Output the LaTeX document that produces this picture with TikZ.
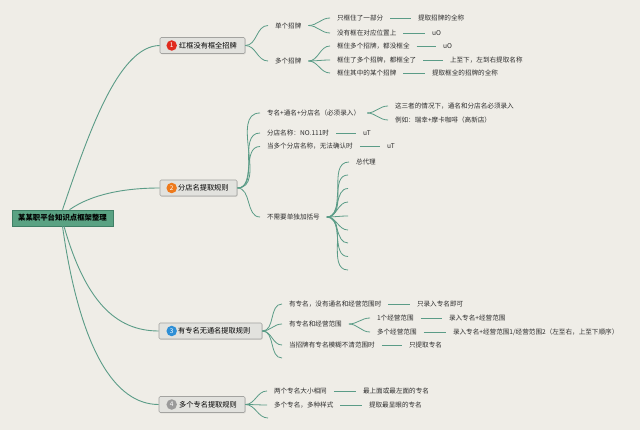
\documentclass[tikz,border=0pt]{standalone}
\usepackage{fontspec}
\setmainfont{Noto Sans CJK SC}
\usetikzlibrary{shadows}
\definecolor{bgc}{HTML}{EFEDE7}
\definecolor{lnc}{HTML}{5B9C87}
\definecolor{txtc}{HTML}{2E2E2E}
\definecolor{boxf}{HTML}{E2E2DE}
\definecolor{boxd}{HTML}{A3A3A0}
\definecolor{rootf}{HTML}{5AA283}
\definecolor{rootd}{HTML}{3F7F66}
\definecolor{c1}{HTML}{E02A1E}
\definecolor{c2}{HTML}{EE7A1C}
\definecolor{c3}{HTML}{2E8FD6}
\definecolor{c4}{HTML}{9A9A9A}
\tikzset{
  ln/.style={draw=lnc, line width=0.8pt},
  leaf/.style={anchor=west, inner xsep=7pt, inner ysep=1pt, outer sep=0pt, text=txtc, font=\fontsize{6.6}{7}\selectfont},
  brbox/.style={draw=boxd, fill=boxf, rounded corners=1.2pt, minimum height=16pt, inner sep=0pt, line width=0.6pt,
    drop shadow={opacity=0.2, shadow xshift=0.8pt, shadow yshift=-0.8pt}},
  brtext/.style={anchor=west, inner sep=0pt, text=black, font=\fontsize{7.2}{8}\selectfont},
  numc/.style={circle, inner sep=0pt, minimum size=10.5pt, text=white, font=\fontsize{6.5}{7}\selectfont},
  sbr/.style={ln, out=0, in=180},
}
\begin{document}
\begin{tikzpicture}[x=1pt,y=-1pt]
\fill[bgc] (0,0) rectangle (640,430);
\useasboundingbox (0,0) rectangle (640,430);

% root
\node[draw=rootd, fill=rootf, minimum width=101pt, minimum height=16pt, inner sep=0pt, line width=0.6pt,
  font=\fontsize{7.4}{8}\selectfont\bfseries, text=black] (root) at (62.5,218) {某某职平台知识点框架整理};

% main branches
\node[brbox, minimum width=85pt] (b1) at (202.5,45.5) {};
\node[numc, fill=c1] (k1) at (171.7,45.5) {1};
\node[brtext] (t1) at (179,45.5) {红框没有框全招牌};

\node[brbox, minimum width=77pt] (b2) at (198.5,188) {};
\node[numc, fill=c2] (k2) at (171.7,188) {2};
\node[brtext] (t2) at (178,188) {分店名提取规则};

\node[brbox, minimum width=103pt] (b3) at (210.5,331) {};
\node[numc, fill=c3] (k3) at (171.7,331) {3};
\node[brtext] (t3) at (178,331) {有专名无通名提取规则};

\node[brbox, minimum width=86pt] (b4) at (202,404.5) {};
\node[numc, fill=c4] (k4) at (171.7,404.5) {4};
\node[brtext] (t4) at (179,404.5) {多个专名提取规则};

% root connectors
\draw[ln, line width=0.9pt] (root.north) .. controls (88,135) and (118,46) .. (b1.west);
\draw[ln, line width=0.9pt] ([xshift=7pt]root.north) .. controls (92,194) and (125,188) .. (b2.west);
\draw[ln, line width=0.9pt] ([xshift=1.5pt]root.south) .. controls (85,300) and (115,331) .. (b3.west);
\draw[ln, line width=0.9pt] (root.south) .. controls (80,350) and (115,404.5) .. (b4.west);

% ---------- branch 1
\node[leaf] (n11) at (268,25.5) {单个招牌};
\node[leaf] (n12) at (268,61) {多个招牌};
\draw[sbr] (b1.east) to (n11.west);
\draw[sbr] (b1.east) to (n12.west);

\node[leaf] (l111) at (330,18) {只框住了一部分};
\node[leaf] (r111) at (411,18) {提取招牌的全称};
\node[leaf] (l112) at (330,33) {没有框在对应位置上};
\node[leaf] (r112) at (425,33) {uO};
\draw[sbr] (n11.east) to (l111.west);
\draw[sbr] (n11.east) to (l112.west);
\draw[ln] (l111.east) -- (r111.west);
\draw[ln] (l112.east) -- (r112.west);

\node[leaf] (l121) at (330,46) {框住多个招牌，都没框全};
\node[leaf] (r121) at (436,46) {uO};
\node[leaf] (l122) at (330,60) {框住了多个招牌，都框全了};
\node[leaf] (r122) at (443,60) {上至下，左到右提取名称};
\node[leaf] (l123) at (330,73) {框住其中的某个招牌};
\node[leaf] (r123) at (425,73) {提取框全的招牌的全称};
\draw[sbr] (n12.east) to (l121.west);
\draw[sbr] (n12.east) to (l122.west);
\draw[sbr] (n12.east) to (l123.west);
\draw[ln] (l121.east) -- (r121.west);
\draw[ln] (l122.east) -- (r122.west);
\draw[ln] (l123.east) -- (r123.west);

% ---------- branch 2
\node[leaf] (n21) at (260,113) {专名+通名+分店名（必须录入）};
\node[leaf] (n22) at (260,133) {分店名称：NO.111时};
\node[leaf] (r22) at (356,133) {uT};
\node[leaf] (n23) at (260,146.5) {当多个分店名称，无法确认时};
\node[leaf] (r23) at (380,146.5) {uT};
\node[leaf] (n24) at (260,217) {不需要单独加括号};
\draw[sbr] (b2.east) to (n21.west);
\draw[sbr] (b2.east) to (n22.west);
\draw[sbr] (b2.east) to (n23.west);
\draw[sbr] (b2.east) to (n24.west);
\draw[ln] (n22.east) -- (r22.west);
\draw[ln] (n23.east) -- (r23.west);

\node[leaf] (l211) at (388,106) {这三者的情况下，通名和分店名必须录入};
\node[leaf] (l212) at (388,120) {例如：瑞幸+摩卡咖啡（高新店）};
\draw[sbr] (n21.east) to (l211.west);
\draw[sbr] (n21.east) to (l212.west);

\node[leaf] (l241) at (349,162) {总代理};
\draw[sbr] (n24.east) to (l241.west);
\foreach \yy [count=\i] in {175,188.5,202,216,230,243,256.5,270}{
  \coordinate (e\i) at (348,\yy);
  \draw[sbr] (n24.east) to (e\i);
}

% ---------- branch 3
\node[leaf] (n31) at (282,304) {有专名，没有通名和经营范围时};
\node[leaf] (r31) at (410,304) {只录入专名即可};
\node[leaf] (n32) at (282,324) {有专名和经营范围};
\node[leaf] (n33) at (282,345) {当招牌有专名模糊不清范围时};
\node[leaf] (r33) at (402,345) {只提取专名};
\coordinate (e31) at (282,358);
\draw[sbr] (b3.east) to (n31.west);
\draw[sbr] (b3.east) to (n32.west);
\draw[sbr] (b3.east) to (n33.west);
\draw[sbr] (b3.east) to (e31);
\draw[ln] (n31.east) -- (r31.west);
\draw[ln] (n33.east) -- (r33.west);

\node[leaf] (l321) at (370,318) {1个经营范围};
\node[leaf] (r321) at (442,318) {录入专名+经营范围};
\node[leaf] (l322) at (370,332) {多个经营范围};
\node[leaf] (r322) at (446,332) {录入专名+经营范围1/经营范围2（左至右，上至下顺序）};
\draw[sbr] (n32.east) to (l321.west);
\draw[sbr] (n32.east) to (l322.west);
\draw[ln] (l321.east) -- (r321.west);
\draw[ln] (l322.east) -- (r322.west);

% ---------- branch 4
\node[leaf] (n41) at (267,391) {两个专名大小相同};
\node[leaf] (r41) at (356,391) {最上面或最左面的专名};
\node[leaf] (n42) at (267,405) {多个专名，多种样式};
\node[leaf] (r42) at (362,405) {提取最显眼的专名};
\coordinate (e41) at (268,418);
\draw[sbr] (b4.east) to (n41.west);
\draw[sbr] (b4.east) to (n42.west);
\draw[sbr] (b4.east) to (e41);
\draw[ln] (n41.east) -- (r41.west);
\draw[ln] (n42.east) -- (r42.west);
\end{tikzpicture}
\end{document}
